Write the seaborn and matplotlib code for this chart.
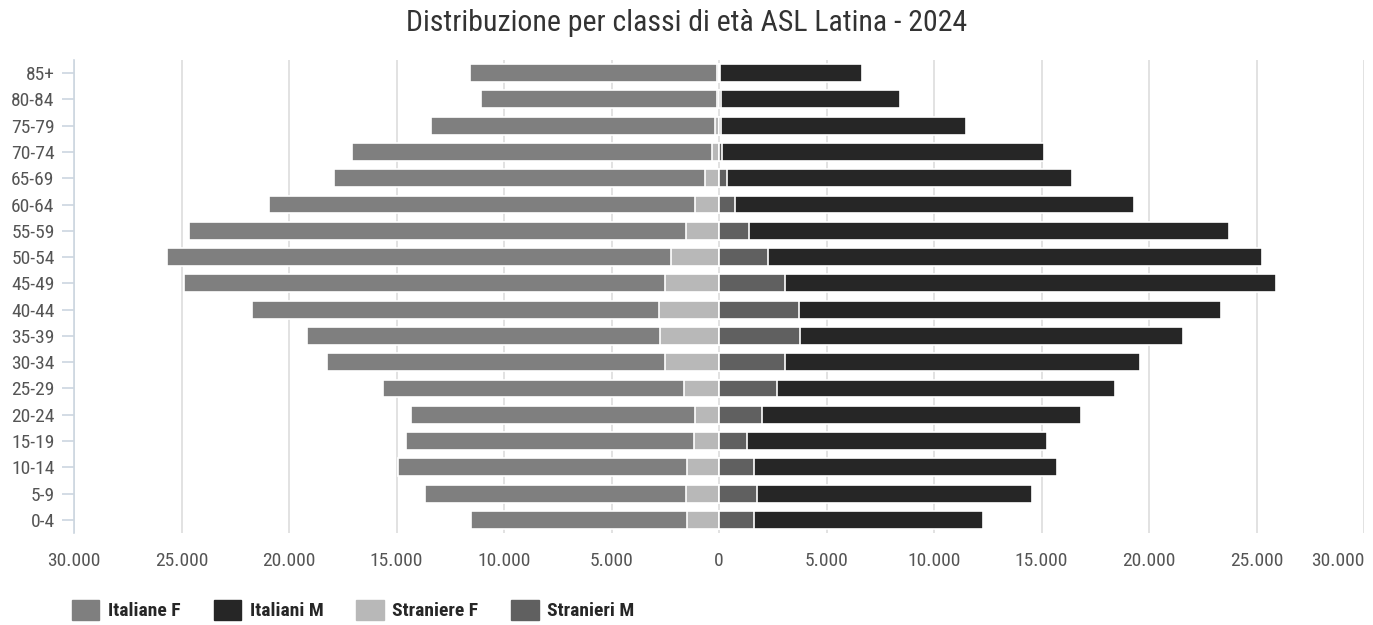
import matplotlib
matplotlib.use("Agg")
import matplotlib.pyplot as plt
import matplotlib.ticker as mticker
from matplotlib.patches import Patch
import seaborn as sns
import pandas as pd

age_classes = ["85+", "80-84", "75-79", "70-74", "65-69", "60-64", "55-59", "50-54",
               "45-49", "40-44", "35-39", "30-34", "25-29", "20-24", "15-19", "10-14",
               "5-9", "0-4"]
italiane_f = [11500, 10950, 13200, 16740, 17280, 19830, 23115, 23460,
              22400, 18930, 16435, 15750, 13970, 13200, 13370, 13455, 12145, 10045]
straniere_f = [80, 100, 190, 340, 640, 1115, 1545, 2210,
               2490, 2790, 2725, 2490, 1650, 1115, 1180, 1480, 1545, 1480]
italiani_m = [6580, 8340, 11400, 14980, 16040, 18520, 22340, 22960,
              22840, 19660, 17820, 16520, 15760, 14820, 13960, 14100, 12820, 10640]
stranieri_m = [60, 80, 100, 140, 380, 760, 1380, 2300,
               3060, 3700, 3760, 3060, 2680, 2000, 1300, 1620, 1760, 1620]
x_ticks = [-30000, -25000, -20000, -15000, -10000, -5000, 0, 5000, 10000, 15000, 20000, 25000, 30000]

title = "Distribuzione per classi di età ASL Latina - 2024"
series_names = ["Italiane F", "Italiani M", "Straniere F", "Stranieri M"]
colors = {"Italiane F": "#7f7f7f", "Italiani M": "#262626",
          "Straniere F": "#b8b8b8", "Stranieri M": "#606060"}

df = pd.DataFrame({
    "age": age_classes,
    "tot_f": [-(a + b) for a, b in zip(italiane_f, straniere_f)],
    "str_f": [-b for b in straniere_f],
    "tot_m": [a + b for a, b in zip(italiani_m, stranieri_m)],
    "str_m": stranieri_m,
})

sns.set_theme(style="white")
plt.rcParams["font.family"] = ["Roboto Condensed", "Liberation Sans Narrow", "Roboto", "DejaVu Sans"]

fig = plt.figure(figsize=(13.73, 6.25), dpi=100)
ax = fig.add_axes([74 / 1373, 1 - 533 / 625, (1364 - 74) / 1373, (533 - 60) / 625])

common = dict(orient="h", order=age_classes, width=0.68, edgecolor="white",
              linewidth=1.2, ax=ax, zorder=3)
sns.barplot(data=df, x="tot_f", y="age", color=colors["Italiane F"], saturation=1, **common)
sns.barplot(data=df, x="str_f", y="age", color=colors["Straniere F"], saturation=1, **common)
sns.barplot(data=df, x="tot_m", y="age", color=colors["Italiani M"], saturation=1, **common)
sns.barplot(data=df, x="str_m", y="age", color=colors["Stranieri M"], saturation=1, **common)

ax.set_xlim(-30000, 30000)
ax.set_xticks(x_ticks)
ax.xaxis.set_major_formatter(mticker.FuncFormatter(lambda v, p: f"{abs(int(v)):,}".replace(",", ".")))
ax.grid(axis="x", color="#dddddd", linewidth=1.2, zorder=0)
ax.grid(axis="y", visible=False)
ax.set_axisbelow(True)
ax.set_xlabel("")
ax.set_ylabel("")

for s in ["top", "right", "bottom"]:
    ax.spines[s].set_visible(False)
ax.spines["left"].set_color("#ccd6e0")
ax.spines["left"].set_linewidth(1.2)

ax.tick_params(axis="y", length=9, width=1.2, color="#ccd6e0", labelsize=14,
               labelcolor="#555555", pad=5, left=True)
ax.tick_params(axis="x", length=0, labelsize=14, labelcolor="#555555", pad=14)
xlabels = ax.get_xticklabels()
xlabels[-1].set_horizontalalignment("right")
xlabels[-1].set_x(30000)

fig.canvas.draw()
# shift last label so it ends at the right edge, as in the reference
import matplotlib.transforms as mtransforms
last = ax.get_xticklabels()[-1]
last.set_horizontalalignment("right")
last.set_transform(last.get_transform() + mtransforms.ScaledTranslation(0.0, 0, fig.dpi_scale_trans))

fig.text(0.5, 1 - 23 / 625, title, ha="center", va="center", fontsize=21.5, color="#333333")

handles = [Patch(facecolor=colors[n], edgecolor=colors[n]) for n in series_names]
fig.legend(handles, series_names, loc="center left", bbox_to_anchor=(72 / 1373, 1 - 610 / 625),
           ncol=4, frameon=False, handlelength=1.4, handleheight=1.2, handletextpad=0.45,
           columnspacing=1.7, borderpad=0, borderaxespad=0,
           prop={"weight": "bold", "size": 14})

fig.savefig("out.png", dpi=100, facecolor="white")
